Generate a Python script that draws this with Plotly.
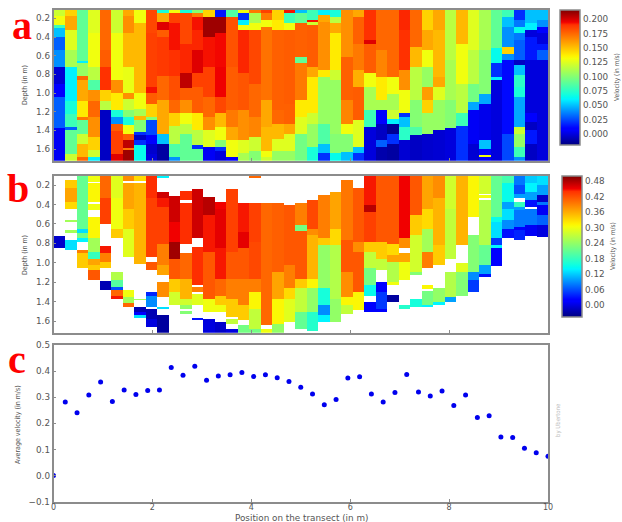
import plotly.graph_objects as go

W, H = 622, 522

# Panel a: for each of the 43 transect columns, (lower depth of the run in m, velocity in m/s)
a_columns = [
 [(.18,.12),(.27,.13),(.30,.08),(.40,.05),(.54,.03),(.72,.04),(.90,-.002),(1.04,.01),(1.38,.03),(1.725,.005)],
 [(.18,.145),(.33,.157),(.54,.125),(.72,.11),(1.08,.06),(1.22,.07),(1.36,.08),(1.39,.03),(1.65,.09),(1.725,.12)],
 [(.65,.09),(.68,.06),(.81,.105),(.86,.175),(1.08,.157),(1.25,.138),(1.29,.17),(1.43,.09),(1.54,.12),(1.68,.152),(1.725,.175)],
 [(.36,.125),(.72,.13),(.86,.115),(.97,.085),(1.08,.164),(1.25,.175),(1.47,.164),(1.61,.145),(1.68,.12),(1.725,.06)],
 [(.54,.175),(.72,.178),(.97,.19),(1.08,.145),(1.18,.115),(1.725,-.005)],
 [(.36,.12),(.86,.13),(1.0,.164),(1.18,.138),(1.25,.07),(1.33,.04),(1.40,.178),(1.65,.186),(1.725,.198)],
 [(.18,.157),(.36,.164),(.72,.152),(1.0,.128),(1.06,.164),(1.18,.12),(1.25,.1),(1.34,.07),(1.43,.13),(1.50,.178),(1.59,.204),(1.61,.17),(1.725,.21)],
 [(.25,.13),(1.0,.152),(1.165,.13),(1.24,.11),(1.29,.152),(1.415,.1),(1.45,.02),(1.50,-.005),(1.56,.02),(1.725,.065)],
 [(.36,.184),(.93,.186),(1.0,.193),(1.11,.178),(1.25,.145),(1.29,.1),(1.45,.025),(1.54,.01),(1.65,-.003),(1.725,.0)],
 [(.147,.07),(.236,.157),(.325,.198),(.397,.178),(.81,.188),(1.075,.175),(1.29,.157),(1.43,.157),(1.54,.05),(1.725,-.012)],
 [(.147,.13),(.254,.186),(.54,.193),(.81,.19),(1.075,.182),(1.218,.175),(1.343,.145),(1.54,.115),(1.683,.085),(1.725,.04)],
 [(.147,.07),(.468,.184),(.79,.191),(.95,.204),(1.075,.178),(1.218,.164),(1.325,.13),(1.433,.115),(1.725,.09)],
 [(.147,.1),(.183,.17),(.325,.193),(.54,.191),(.79,.198),(.933,.186),(1.218,.178),(1.397,.138),(1.558,.115),(1.6,.02),(1.725,.09)],
 [(.183,.145),(.397,.21),(.718,.193),(1.04,.186),(1.254,.175),(1.397,.164),(1.575,.125),(1.725,.005)],
 [(.183,.015),(.361,.21),(.718,.194),(1.04,.195),(1.218,.184),(1.361,.152),(1.504,.13),(1.575,.1),(1.611,.02),(1.725,0)],
 [(.183,.085),(.718,.181),(1.183,.178),(1.361,.17),(1.504,.157),(1.683,.13),(1.725,.01)],
 [(.147,.13),(.218,.02),(.272,.06),(.325,.13),(.79,.191),(1.183,.18),(1.504,.164),(1.647,.125),(1.725,.11)],
 [(.147,.17),(.254,.11),(.325,.13),(.897,.184),(1.254,.175),(1.468,.167),(1.611,.12),(1.725,.1)],
 [(.147,.186),(.218,.17),(.29,.13),(.325,.17),(1.075,.172),(1.361,.157),(1.611,.152),(1.683,.13),(1.725,.12)],
 [(.218,.145),(.325,.138),(1.183,.177),(1.325,.175),(1.486,.152),(1.611,.125),(1.725,.105)],
 [(.147,.193),(.254,.08),(.325,.13),(1.111,.178),(1.325,.177),(1.433,.157),(1.611,.125),(1.725,.105)],
 [(.147,.05),(.254,.09),(.611,.177),(.683,.09),(1.075,.17),(1.254,.138),(1.433,.125),(1.725,.095)],
 [(.218,.08),(.236,.193),(.272,.12),(.718,.178),(.825,.157),(1.218,.138),(1.325,.12),(1.575,.105),(1.725,.07)],
 [(.165,.06),(.236,.157),(.754,.164),(.825,.138),(1.325,.105),(1.54,.085),(1.647,.05),(1.725,.02)],
 [(.183,.07),(.254,.115),(.361,.157),(.754,.138),(.861,.12),(1.433,.105),(1.647,.1),(1.725,.065)],
 [(.611,.164),(1.075,.177),(1.325,.167),(1.433,.13),(1.63,.1),(1.725,.05)],
 [(.183,.157),(.468,.177),(.754,.17),(.933,.155),(1.29,.178),(1.575,.125),(1.647,.05),(1.725,.02)],
 [(.433,.19),(.468,.198),(.79,.178),(.933,.13),(1.183,.11),(1.361,.08),(1.725,0)],
 [(.54,.175),(.825,.167),(1.075,.138),(1.183,.11),(1.325,.01),(1.504,-.005),(1.575,.03),(1.725,-.01)],
 [(.825,.175),(1.004,.13),(1.183,.11),(1.272,.12),(1.325,.06),(1.433,-.015),(1.54,.02),(1.725,-.012)],
 [(.325,.191),(.754,.19),(.968,.164),(1.218,.13),(1.254,.02),(1.361,.05),(1.504,.075),(1.725,-.002)],
 [(.504,.175),(.718,.152),(1.075,.115),(1.361,.1),(1.45,.085),(1.725,-.005)],
 [(.325,.145),(.54,.157),(.718,.13),(.933,.105),(1.075,.16),(1.218,.145),(1.433,.105),(1.725,-.003)],
 [(.325,.157),(.825,.152),(.933,.157),(1.075,.125),(1.397,.105),(1.725,-.002)],
 [(.647,.115),(1.075,.11),(1.379,.1),(1.725,0)],
 [(.468,.152),(.897,.13),(1.218,.115),(1.343,.08),(1.725,.02)],
 [(.54,.125),(.897,.115),(1.093,.095),(1.183,.045),(1.54,.005),(1.725,-.002)],
 [(.54,.11),(1.004,.1),(1.111,.045),(1.504,.003),(1.593,.05),(1.665,.01),(1.683,.13),(1.725,.01)],
 [(.522,.09),(.683,.065),(.825,.02),(.861,.06),(1.725,0)],
 [(.183,.08),(.29,.05),(.504,.04),(.575,.145),(.647,.04),(1.433,.012),(1.725,.025)],
 [(.218,.02),(.29,.035),(.361,.065),(.433,.035),(.647,.03),(.7,-.005),(.808,.05),(.933,.075),(1.04,.07),(1.361,.045),(1.433,.12),(1.575,.105),(1.683,.08),(1.725,.04)],
 [(.254,.05),(.325,.06),(.397,0),(.647,.015),(1.218,0),(1.308,.01),(1.397,-.005),(1.54,.015),(1.725,-.005)],
 [(.218,.05),(.29,.04),(.361,.01),(.468,0),(.54,.015),(.647,.03),(1.725,0)],
]

# Panel b: same layout; None marks the empty (white) cells
b_columns = [
 [(.73,None),(.845,-.01),(1.72,None)],
 [(.145,None),(.234,.34),(.372,.365),(.447,.33),(.56,None),(.585,.25),(.657,None),(.69,.25),(.766,None),(.87,.13),(1.72,None)],
 [(.646,.21),(.698,.13),(.749,.22),(.79,.14),(.87,None),(.904,.39),(1.058,.34),(1.72,None)],
 [(.166,.3),(.183,None),(.372,.31),(.4,None),(.458,.3),(.526,None),(.749,.31),(.887,.25),(.966,.18),(1.024,.365),(1.076,.34),(1.178,.415),(1.72,None)],
 [(.337,.405),(.605,.43),(.828,None),(.904,.445),(.99,.39),(1.058,.34),(1.185,None),(1.281,-.02),(1.72,None)],
 [(.337,.29),(.646,.3),(.749,.34),(1.093,None),(1.178,.26),(1.247,.2),(1.281,.06),(1.333,.405),(1.367,.445),(1.72,None)],
 [(.16,.38),(.183,None),(.44,.365),(.646,.34),(.938,.29),(1.281,None),(1.35,.3),(1.419,.25),(1.453,.405),(1.72,None)],
 [(.16,.33),(.183,None),(.406,.355),(1.007,.355),(1.367,None),(1.384,.25),(1.453,None),(1.505,-.02),(1.539,.02),(1.567,.13),(1.72,None)],
 [(.337,.44),(.938,.43),(.996,None),(1.076,.415),(1.299,None),(1.34,.04),(1.453,.09),(1.477,None),(1.573,-.02),(1.659,.0),(1.72,None)],
 [(.131,.14),(.275,None),(.337,.465),(.423,.445),(.8,.43),(1.024,.39),(1.127,.365),(1.196,None),(1.281,.38),(1.35,.38),(1.453,None),(1.477,.13),(1.539,None),(1.72,-.03)],
 [(.313,None),(.578,.465),(.784,.45),(.955,.485),(1.161,.415),(1.299,.34),(1.436,.28),(1.72,None)],
 [(.262,None),(.348,.44),(.382,None),(.8,.44),(.904,None),(1.161,.405),(1.367,.355),(1.436,.28),(1.47,.24),(1.488,None),(1.522,.23),(1.72,None)],
 [(.241,None),(.749,.465),(.835,None),(1.23,.44),(1.247,None),(1.299,.39),(1.316,None),(1.436,.29),(1.567,None),(1.59,.03),(1.72,None)],
 [(.32,None),(.509,.475),(.887,.445),(1.367,.415),(1.505,.3),(1.58,None),(1.72,.0)],
 [(.372,None),(.44,.45),(.853,.455),(1.161,.445),(1.333,.405),(1.436,.34),(1.505,.3),(1.607,None),(1.72,-.01)],
 [(.241,None),(.509,.43),(.887,.43),(1.161,.415),(1.367,.39),(1.556,.34),(1.58,None),(1.625,.27),(1.676,None),(1.72,.0)],
 [(.378,None),(.681,.445),(.852,.455),(1.161,.415),(1.436,.39),(1.59,.34),(1.642,None),(1.72,.22)],
 [(.125,.405),(.389,None),(.784,.43),(1.161,.425),(1.299,.39),(1.47,.31),(1.676,.27),(1.72,.22)],
 [(.389,None),(1.161,.405),(1.367,.405),(1.642,.405),(1.676,None),(1.72,.3)],
 [(.389,None),(1.093,.41),(1.367,.365),(1.625,.31),(1.72,.24)],
 [(.406,None),(1.024,.415),(1.264,.39),(1.367,.33),(1.607,.29),(1.72,None)],
 [(.389,None),(.612,.39),(.67,.22),(1.161,.415),(1.264,.34),(1.505,.27),(1.676,.21),(1.72,None)],
 [(.355,None),(.646,.425),(.715,.38),(1.161,.355),(1.264,.31),(1.505,.24),(1.693,.17),(1.72,None)],
 [(.303,None),(.749,.39),(.818,.34),(1.264,.24),(1.436,.16),(1.532,.09),(1.607,.14),(1.72,None)],
 [(.275,None),(.646,.365),(.818,.33),(1.367,.26),(1.607,.24),(1.72,None)],
 [(.148,None),(.766,.395),(1.093,.415),(1.35,.38),(1.436,.31),(1.522,.27),(1.72,None)],
 [(.228,None),(.784,.415),(.887,.38),(1.299,.415),(1.487,.31),(1.72,None)],
 [(.406,.445),(.475,.475),(.784,.43),(.887,.34),(1.058,.27),(1.23,.22),(1.333,.15),(1.4,None),(1.505,.02),(1.72,None)],
 [(.784,.415),(.955,.34),(1.076,.27),(1.19,None),(1.299,.02),(1.47,.05),(1.505,.02),(1.72,None)],
 [(.8,.415),(.921,.33),(.99,.365),(1.19,.26),(1.23,.3),(1.264,None),(1.33,None),(1.395,-.03),(1.72,None)],
 [(.509,.45),(.749,.45),(.845,.38),(.904,None),(.99,.365),(1.178,.3),(1.436,None),(1.47,.17),(1.72,None)],
 [(.509,.415),(.715,.34),(1.093,.28),(1.127,.23),(1.367,None),(1.453,.16),(1.72,None)],
 [(.44,.365),(.646,.33),(.887,.25),(1.058,.39),(1.223,None),(1.27,.31),(1.292,None),(1.436,.22),(1.453,.14),(1.72,None)],
 [(.337,.38),(.818,.355),(1.024,.34),(1.264,None),(1.402,.24),(1.436,.14),(1.72,None)],
 [(.44,.28),(.955,.27),(1.093,None),(1.35,.26),(1.395,.1),(1.72,None)],
 [(.818,.355),(.9995,None),(1.093,.29),(1.333,.23),(1.72,None)],
 [(.526,.31),(.715,None),(1.093,.23),(1.178,.09),(1.299,.05),(1.72,None)],
 [(.286,.28),(.303,None),(.33,.3),(.355,None),(.818,.26),(1.024,.21),(1.11,.1),(1.144,.03),(1.72,None)],
 [(.526,.21),(.578,.15),(.749,.13),(.818,.05),(.852,.14),(1.031,.02),(1.72,None)],
 [(.183,.19),(.372,.15),(.44,.1),(.56,.13),(.646,.09),(.749,.03),(1.72,None)],
 [(.2,.08),(.286,.06),(.337,.1),(.372,None),(.423,.18),(.458,.1),(.629,.08),(.664,.02),(.766,.04),(1.72,None)],
 [(.183,.12),(.269,.14),(.355,.1),(.423,.03),(.45,None),(.612,.08),(.722,.01),(1.72,None)],
 [(.2,.13),(.303,.1),(.372,-.01),(.406,.08),(.509,.01),(.612,.07),(.732,.0),(1.72,None)],
]

# Panel c: average velocity at each of the 43 measurement positions
avg_velocity = [0.0, .282, .241, .309, .358, .284, .328, .31, .326, .328, .414, .384, .419, .365, .381,
                .386, .395, .379, .386, .375, .36, .338, .312, .271, .291, .374, .378, .312, .282, .318,
                .387, .32, .305, .324, .268, .309, .222, .229, .148, .146, .105, .087, .074]

a_zrange = [-0.019, 0.2157]
b_zrange = [-0.045, 0.499]
a_depth_range = [1.725, 0.11]
b_depth_range = [1.72, 0.107]
a_cb_ticks = [0, .025, .05, .075, .1, .125, .15, .175, .2]
b_cb_ticks = [0, .06, .12, .18, .24, .3, .36, .42, .48]
depth_ticks = [.2, .4, .6, .8, 1.0, 1.2, 1.4, 1.6]

# matplotlib's "jet"
JET = [[0, "rgb(0,0,127)"], [0.11, "rgb(0,0,255)"], [0.125, "rgb(0,0,255)"], [0.34, "rgb(0,245,255)"],
       [0.35, "rgb(0,250,243)"], [0.375, "rgb(20,255,220)"], [0.64, "rgb(245,255,10)"], [0.66, "rgb(255,243,0)"],
       [0.89, "rgb(255,50,0)"], [0.91, "rgb(241,0,0)"], [1, "rgb(127,0,0)"]]


def grid(columns, top, bottom, nrows=260):
    step = (bottom - top) / nrows
    edges = [top + i * step for i in range(nrows + 1)]
    z = []
    for r in range(nrows):
        c = edges[r] + step / 2
        row = []
        for col in columns:
            val = col[-1][1]
            for d, v in col:
                if c <= d:
                    val = v
                    break
            row.append(val)
        z.append(row)
    return edges, z


def fx(p):
    return p / W


def fy(p):
    return 1 - p / H


TXT = "#555555"
EDGE = "#8c8c8c"
FONT = "DejaVu Sans"
COND = "DejaVu Sans Condensed, DejaVu Sans"

fig = go.Figure()
xe = [i * 10 / 43 for i in range(44)]

ya, za = grid(a_columns, a_depth_range[1], a_depth_range[0])
fig.add_trace(go.Heatmap(
    x=xe, y=ya, z=za, colorscale=JET, zmin=a_zrange[0], zmax=a_zrange[1], xaxis="x", yaxis="y",
    hoverongaps=False,
    colorbar=dict(x=fx(560), xanchor="left", xpad=0, ypad=0, y=fy(10), yanchor="top", lenmode="pixels", len=135,
                  thickness=20, thicknessmode="pixels", tickvals=a_cb_ticks, ticktext=[f"{t:.3f}" for t in a_cb_ticks],
                  ticks="", outlinecolor=EDGE, outlinewidth=1.5,
                  tickfont=dict(family=FONT, size=8.8, color=TXT)),
))
yb, zb = grid(b_columns, b_depth_range[1], b_depth_range[0])
fig.add_trace(go.Heatmap(
    x=xe, y=yb, z=zb, colorscale=JET, zmin=b_zrange[0], zmax=b_zrange[1], xaxis="x2", yaxis="y2",
    hoverongaps=False,
    colorbar=dict(x=fx(562), xanchor="left", xpad=0, ypad=0, y=fy(176), yanchor="top", lenmode="pixels", len=141,
                  thickness=20, thicknessmode="pixels", tickvals=b_cb_ticks, ticktext=[f"{t:.2f}" for t in b_cb_ticks],
                  ticks="", outlinecolor=EDGE, outlinewidth=1.5,
                  tickfont=dict(family=FONT, size=8.8, color=TXT)),
))
fig.add_trace(go.Scatter(
    x=[i * 10 / 42 for i in range(43)], y=avg_velocity, mode="markers", xaxis="x3", yaxis="y3",
    marker=dict(color="#0000ee", size=5), showlegend=False,
))

axis_common = dict(showline=True, mirror=True, linecolor=EDGE, linewidth=1.5, showgrid=False, zeroline=False,
                   ticks="inside", ticklen=3, tickcolor=EDGE, tickfont=dict(family=FONT, size=8.8, color=TXT))
xdom = [fx(53.5), fx(548)]

annotations = []


def note(text, px, py, size=7, angle=-90, color=TXT, family=COND):
    annotations.append(dict(text=text, xref="paper", yref="paper", x=fx(px), y=fy(py), showarrow=False,
                            textangle=angle, xanchor="center", yanchor="middle",
                            font=dict(family=family, size=size, color=color)))


note("Depth (in m)", 25, 85)
note("Depth (in m)", 25, 255)
note("Average velocity (in m/s)", 18, 425)
note("Velocity (in m/s)", 617, 77, size=6.6)
note("Velocity (in m/s)", 613, 246, size=6.6)
note("by Ubertone", 558, 420, size=6, color="#bbbbbb")
note("Position on the transect (in m)", 301, 518, size=8.8, angle=0, family=FONT)
serif = "Liberation Serif"
note("<b>a</b>", 22, 26, size=40, angle=0, color="#ff0000", family=serif)
note("<b>b</b>", 18, 189, size=40, angle=0, color="#ff0000", family=serif)
note("<b>c</b>", 17, 359, size=40, angle=0, color="#ff0000", family=serif)

x3_common = {**axis_common, "tickfont": dict(family=FONT, size=8, color=TXT)}

fig.update_layout(
    width=W, height=H, autosize=False, margin=dict(l=0, r=0, t=0, b=0, autoexpand=False),
    paper_bgcolor="white", plot_bgcolor="white", showlegend=False, annotations=annotations,
    xaxis=dict(domain=xdom, range=[0, 10], anchor="y", showticklabels=False, **axis_common),
    yaxis=dict(domain=[fy(160.7), fy(10)], range=a_depth_range, anchor="x", tickvals=depth_ticks,
               ticktext=[f"{t:.1f}" for t in depth_ticks], **axis_common),
    xaxis2=dict(domain=xdom, range=[0, 10], anchor="y2", showticklabels=False, **axis_common),
    yaxis2=dict(domain=[fy(332.7), fy(176)], range=b_depth_range, anchor="x2", tickvals=depth_ticks,
                ticktext=[f"{t:.1f}" for t in depth_ticks], **axis_common),
    xaxis3=dict(domain=xdom, range=[0, 10], anchor="y3", tickvals=[0, 2, 4, 6, 8, 10], ticklabelstandoff=-3, **x3_common),
    yaxis3=dict(domain=[fy(501.7), fy(345)], range=[-0.1, 0.5], anchor="x3", tickvals=[-.1, 0, .1, .2, .3, .4, .5],
                ticktext=["\u22120.1", "0.0", "0.1", "0.2", "0.3", "0.4", "0.5"], **axis_common),
)

fig.write_html("out.html", config={"displayModeBar": False},
               post_script="document.body.style.margin='0';document.body.style.overflow='hidden';")
